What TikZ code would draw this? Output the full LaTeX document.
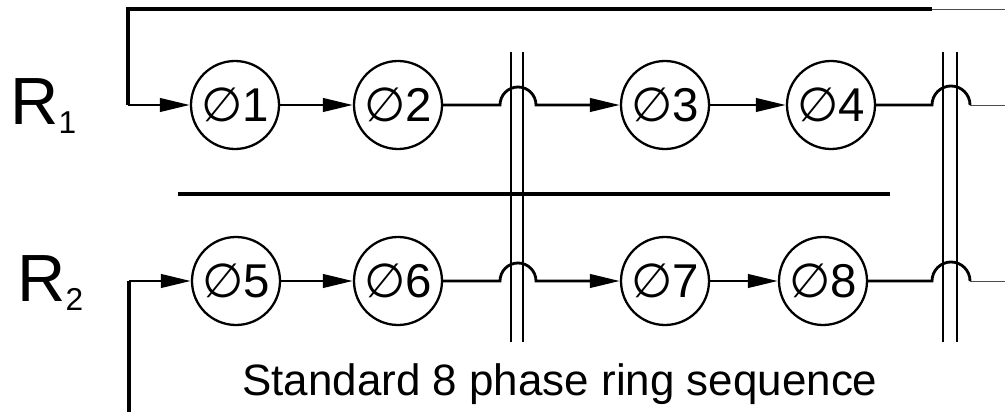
\documentclass[tikz,border=0pt]{standalone}
\usepackage{fontspec}
\setmainfont{Liberation Sans}
\newfontfamily\symfont{DejaVu Sans}
\usetikzlibrary{arrows.meta,positioning}

\begin{document}
\begin{tikzpicture}[x=0.2mm,y=0.2mm,
  phase/.style={circle,draw=black,line width=1.3pt,minimum size=17.6mm,inner sep=0pt,
    font=\fontsize{27}{27}\selectfont},
  wire/.style={line width=1.6pt},
  flow/.style={wire,-{Triangle[length=17pt,width=7.6pt]}},
  feed/.style={line width=2pt},
  stub/.style={line width=0.5pt,black!70},
  barrier/.style={line width=1.6pt}]
\useasboundingbox (0,0) rectangle (1005,412);
% \draw[help lines,step=50] (0,0) grid (1005,412);
\node (r1) [anchor=base west,inner sep=0pt] at (10,287)
  {\fontsize{38}{38}\selectfont R\raisebox{-5.1pt}{\fontsize{18}{18}\selectfont 1}};
\node (r2) [anchor=base west,inner sep=0pt] at (17,110)
  {\fontsize{38}{38}\selectfont R\raisebox{-5.1pt}{\fontsize{18}{18}\selectfont 2}};
%
\node (c1) [phase] at (235,307) {{\symfont ∅}1};
\node (c2) [phase] at (398,307) {{\symfont ∅}2};
\node (c3) [phase] at (665,307) {{\symfont ∅}3};
\node (c4) [phase] at (831,307) {{\symfont ∅}4};
\node (c5) [phase] at (236,131) {{\symfont ∅}5};
\node (c6) [phase] at (398,131) {{\symfont ∅}6};
\node (c7) [phase] at (665,131) {{\symfont ∅}7};
\node (c8) [phase] at (823,131) {{\symfont ∅}8};
%
\node (cap) [anchor=base,inner sep=0pt,font=\fontsize{25}{25}\selectfont] at (560,17)
  {Standard 8 phase ring sequence};
%
\coordinate (fb1) at (128,403);
\coordinate (fb2) at (128,307);
\coordinate (top) at (932,403);
\coordinate (topend) at (1005,403);
\coordinate (fb3) at (129,0);
\coordinate (fb4) at (129,131);
\coordinate (h1a) at (500,307);
\coordinate (h1b) at (500,131);
\coordinate (h2a) at (932,307);
\coordinate (h2b) at (932,131);
\coordinate (e1) at (1005,307);
\coordinate (e2) at (1005,131);
\coordinate (m1) at (178,218);
\coordinate (m2) at (890,218);
%
\draw[barrier] (511,70) -- (511,360);
\draw[barrier] (523,70) -- (523,360);
\draw[barrier] (943,70) -- (943,360);
\draw[barrier] (957,70) -- (957,360);
\draw[feed] (m1) -- (m2);
%
\draw[stub] (topend) -- (top);
\draw[feed] (top) -- (fb1) -- (fb2);
\draw[flow] (fb2) -- (c1);
\draw[flow] (c1) -- (c2);
\draw[flow] (c2) -- (h1a) arc (180:0:18) -- (c3);
\draw[flow] (c3) -- (c4);
\draw[wire] (c4) -- (h2a) arc (180:0:19) coordinate (h2c);
\draw[stub] (h2c) -- (e1);
%
\draw[feed] (fb3) -- (fb4);
\draw[flow] (fb4) -- (c5);
\draw[flow] (c5) -- (c6);
\draw[flow] (c6) -- (h1b) arc (180:0:18) -- (c7);
\draw[flow] (c7) -- (c8);
\draw[wire] (c8) -- (h2b) arc (180:0:19) coordinate (h2d);
\draw[stub] (h2d) -- (e2);
\end{tikzpicture}
\end{document}
